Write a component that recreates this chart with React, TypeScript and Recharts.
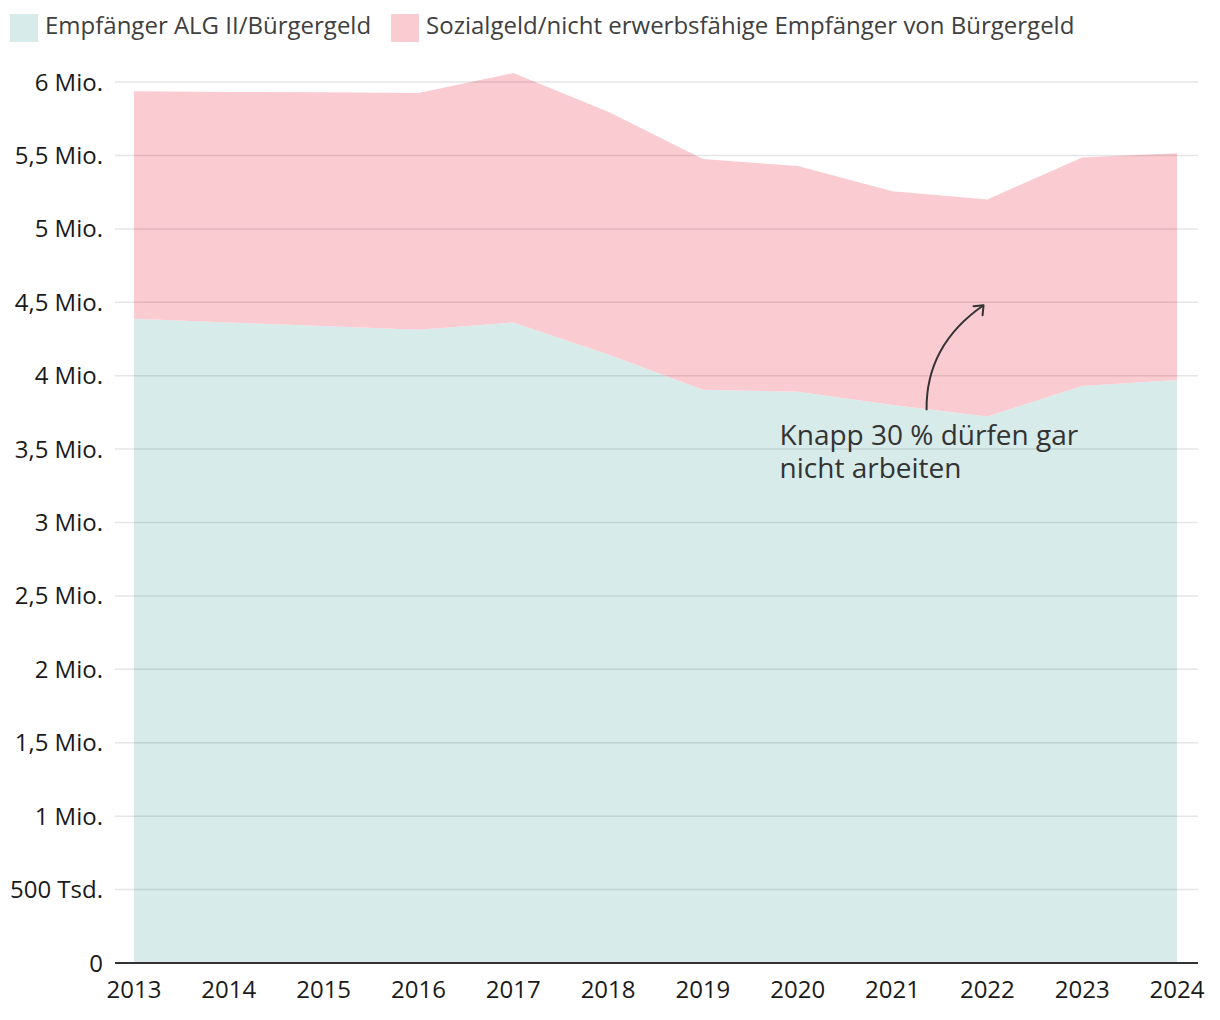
import React from 'react';
import { AreaChart, Area, XAxis, YAxis, ReferenceLine, ReferenceDot } from 'recharts';

const years = [2013, 2014, 2015, 2016, 2017, 2018, 2019, 2020, 2021, 2022, 2023, 2024];
const algValues = [4388000, 4363000, 4338000, 4313000, 4363000, 4145000, 3905000, 3890000, 3800000, 3723000, 3930000, 3970000];
const sozialValues = [1549000, 1570000, 1592000, 1613000, 1698000, 1652000, 1571000, 1538000, 1456000, 1478000, 1557000, 1546000];
const yTicks = [0, 500000, 1000000, 1500000, 2000000, 2500000, 3000000, 3500000, 4000000, 4500000, 5000000, 5500000, 6000000];
const yTickLabels = ['0', '500 Tsd.', '1 Mio.', '1,5 Mio.', '2 Mio.', '2,5 Mio.', '3 Mio.', '3,5 Mio.', '4 Mio.', '4,5 Mio.', '5 Mio.', '5,5 Mio.', '6 Mio.'];
const seriesNames = ['Empfänger ALG II/Bürgergeld', 'Sozialgeld/nicht erwerbsfähige Empfänger von Bürgergeld'];
const seriesColors = ['#d7ebea', '#facbd1'];
const annotationLines = ['Knapp 30 % dürfen gar', 'nicht arbeiten'];
const annotationTarget = { year: 2021.96, value: 4480000 };

const data = years.map((year, i) => ({ year, alg: algValues[i], sozial: sozialValues[i] }));

const FONT = '"Open Sans", "Noto Sans", sans-serif';

const AnnotationShape = (props: any) => {
  const { cx, cy } = props;
  if (cx == null || cy == null) return null;
  const sx = cx - 57;
  const sy = cy + 105;
  const c1x = cx - 58;
  const c1y = cy + 40;
  return (
    <g>
      <path
        d={`M ${sx} ${sy} Q ${c1x} ${c1y} ${cx} ${cy}`}
        fill="none"
        stroke="#333"
        strokeWidth={2}
      />
      <path
        d={`M ${cx - 10} ${cy + 1} L ${cx} ${cy} L ${cx - 1} ${cy + 10}`}
        fill="none"
        stroke="#333"
        strokeWidth={2}
        strokeLinecap="round"
        strokeLinejoin="round"
      />
      {annotationLines.map((line, i) => (
        <text
          key={i}
          x={cx - 204}
          y={cy + 140 + i * 33}
          fill="#333"
          fontSize={28}
          fontFamily={FONT}
        >
          {line}
        </text>
      ))}
    </g>
  );
};

const Legend = () => (
  <div
    style={{
      position: 'absolute',
      left: 10,
      top: 14,
      display: 'flex',
      alignItems: 'flex-start',
      fontFamily: FONT,
      fontSize: 24,
      color: '#404040',
      whiteSpace: 'nowrap',
    }}
  >
    {seriesNames.map((name, i) => (
      <div key={i} style={{ display: 'flex', alignItems: 'flex-start', marginRight: 20 }}>
        <div style={{ width: 28, height: 28, background: seriesColors[i], marginRight: 7 }} />
        <span style={{ lineHeight: '28px', position: 'relative', top: -3 }}>{name}</span>
      </div>
    ))}
  </div>
);

export default function App() {
  return (
    <div style={{ position: 'absolute', left: 0, top: 0, width: 1220, height: 1020, background: '#fff' }}>
      <AreaChart
        width={1220}
        height={1020}
        data={data}
        margin={{ top: 52.7, right: 22, bottom: 12, left: 0 }}
      >
        <XAxis
          dataKey="year"
          type="number"
          domain={[2013, 2024]}
          ticks={years}
          padding={{ left: 19, right: 21 }}
          height={45}
          tickSize={0}
          tickMargin={18}
          axisLine={{ stroke: '#333', strokeWidth: 2 }}
          tick={{ fill: '#1a1a1a', fontSize: 24, fontFamily: FONT }}
          interval={0}
        />
        <YAxis
          type="number"
          domain={[0, 6200000]}
          ticks={yTicks}
          width={115}
          tickSize={0}
          tickMargin={12}
          axisLine={false}
          interval={0}
          tick={{ fill: '#1a1a1a', fontSize: 24, fontFamily: FONT }}
          tickFormatter={(v: number) => yTickLabels[yTicks.indexOf(v)] ?? ''}
        />
        <Area
          dataKey="alg"
          stackId="1"
          type="linear"
          fill={seriesColors[0]}
          fillOpacity={1}
          stroke="none"
          dot={false}
          activeDot={false}
          isAnimationActive={false}
        />
        <Area
          dataKey="sozial"
          stackId="1"
          type="linear"
          fill={seriesColors[1]}
          fillOpacity={1}
          stroke="none"
          dot={false}
          activeDot={false}
          isAnimationActive={false}
        />
        {yTicks.filter((t) => t > 0).map((t) => (
          <ReferenceLine key={t} y={t} stroke="rgba(0,0,0,0.1)" strokeWidth={1.5} />
        ))}
        <ReferenceDot
          x={annotationTarget.year}
          y={annotationTarget.value}
          r={0}
          shape={AnnotationShape}
        />
      </AreaChart>
      <Legend />
    </div>
  );
}
